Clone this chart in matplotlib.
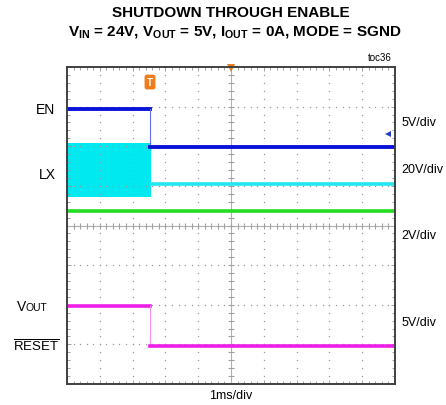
import numpy as np
import matplotlib
matplotlib.use('Agg')
import matplotlib.pyplot as plt

# scope traces, in divisions (10 x 8 screen)
t_step = [0.0, 2.53, 2.53, 10.0]
en_trace = [6.94, 6.94, 5.98, 5.98]
vout_trace = [1.97, 1.97, 0.96, 0.96]
lx_burst_t = [0.0, 2.55]
lx_burst_lo = [4.72, 4.72]
lx_burst_hi = [6.08, 6.08]
lx_after_t = [2.55, 10.0]
lx_after = [5.05, 5.05]
gnd_t = [0.0, 10.0]
gnd_trace = [4.37, 4.37]

left_labels = ['EN', 'LX']
left_label_y = [6.95, 5.3]
right_labels = ['5V/div', '20V/div', '2V/div', '5V/div']
right_label_y = [6.62, 5.43, 3.76, 1.57]

plt.rcParams['font.family'] = ['Liberation Sans', 'DejaVu Sans']
plt.rcParams['mathtext.fontset'] = 'custom'
plt.rcParams['mathtext.rm'] = 'Liberation Sans'
plt.rcParams['mathtext.bf'] = 'Liberation Sans:bold'

W, H = 446, 406
fig = plt.figure(figsize=(W / 100, H / 100), dpi=100)


def fx(px):
    return px / W


def fy(py):
    return 1 - py / H


ax = fig.add_axes([fx(67), fy(385), fx(395) - fx(67), fy(68) - fy(385)])
ax.set_xlim(0, 10)
ax.set_ylim(0, 8)

# dotted graticule
grid_c = '#9a9a9a'
for gx in range(1, 10):
    if gx == 5:
        continue
    ys = np.arange(0, 8.01, 0.2)
    ax.plot(np.full_like(ys, gx), ys, ls='none', marker='s', ms=0.9, mew=0, color=grid_c)
for gy in range(1, 8):
    if gy == 4:
        continue
    xs = np.arange(0, 10.01, 0.2)
    ax.plot(xs, np.full_like(xs, gy), ls='none', marker='s', ms=0.9, mew=0, color=grid_c)

# centre axes with minor ticks
ax.axvline(5, color='#b0b0b0', lw=0.8)
ax.axhline(4, color='#b0b0b0', lw=0.8)
ys = np.arange(0, 8.01, 0.2)
ax.plot(np.full_like(ys, 5), ys, ls='none', marker='_', ms=4, mew=0.8, color='#a0a0a0')
xs = np.arange(0, 10.01, 0.2)
ax.plot(xs, np.full_like(xs, 4), ls='none', marker='|', ms=4, mew=0.8, color='#a0a0a0')

# traces
ax.fill_between(lx_burst_t, lx_burst_lo, lx_burst_hi, color='#00e8f0', lw=0)
ax.plot(lx_after_t, lx_after, color='#22e6f0', lw=2.6)
ax.plot(gnd_t, gnd_trace, color='#22dd22', lw=2.6)
ax.plot(t_step[:2], en_trace[:2], color='#0a14d8', lw=2.8)
ax.plot(t_step[1:3], en_trace[1:3], color='#6070f0', lw=0.8)
ax.plot(t_step[2:], en_trace[2:], color='#0a14d8', lw=2.8)
ax.plot(t_step[:2], vout_trace[:2], color='#ee1ee8', lw=2.6)
ax.plot(t_step[1:3], vout_trace[1:3], color='#f890f0', lw=0.8)
ax.plot(t_step[2:], vout_trace[2:], color='#ee1ee8', lw=2.6)

# markers
ax.plot([5], [7.97], marker='v', ms=6, color='#f07c1c', clip_on=False, mew=0)
ax.plot([3.93], [8.0], marker='_', ms=5, mew=1.5, color='#f0a070', clip_on=False)
ax.plot([9.79], [6.31], marker='<', ms=5, color='#2040c0', mew=0)
ax.text(2.53, 7.62, 'T', ha='center', va='center', fontsize=7, fontweight='bold',
        color='white', bbox=dict(boxstyle='round,pad=0.25', fc='#f07c1c', ec='none'))

# frame and border ticks
for s in ax.spines.values():
    s.set_color('#404040')
    s.set_linewidth(1.4)
ax.set_xticks(np.arange(0, 10.01, 1))
ax.set_yticks(np.arange(0, 8.01, 1))
ax.set_xticks(np.arange(0, 10.01, 0.2), minor=True)
ax.set_yticks(np.arange(0, 8.01, 0.2), minor=True)
ax.tick_params(which='both', direction='in', top=True, right=True,
               labelbottom=False, labelleft=False, color='#909090', width=0.6)
ax.tick_params(which='major', length=3)
ax.tick_params(which='minor', length=2)

# labels
for lbl, yy in zip(left_labels, left_label_y):
    ax.text(-0.35, yy, lbl, ha='right', va='center', fontsize=10)
for lbl, yy in zip(right_labels, right_label_y):
    ax.text(10.2, yy, lbl, ha='left', va='center', fontsize=9)

fig.text(fx(17), fy(311), 'V', ha='left', va='baseline', fontsize=10)
fig.text(fx(26), fy(311), 'OUT', ha='left', va='baseline', fontsize=7.5)
fig.text(fx(59), fy(351), r'$\overline{\mathrm{RESET}}$', ha='right', va='baseline', fontsize=9.5)

fig.text(fx(231), fy(396), '1ms/div', ha='center', va='center', fontsize=9)
fig.text(fx(392), fy(58), 'toc36', ha='right', va='center', fontsize=7)

fig.text(fx(231), fy(13), 'SHUTDOWN THROUGH ENABLE', ha='center', va='center',
         fontsize=11, fontweight='bold')
fig.text(fx(235), fy(33),
         r'V$_{\mathbf{IN}}$ = 24V, V$_{\mathbf{OUT}}$ = 5V, I$_{\mathbf{OUT}}$ = 0A, MODE = SGND',
         ha='center', va='center', fontsize=11, fontweight='bold')

fig.savefig('out.png', dpi=100)
